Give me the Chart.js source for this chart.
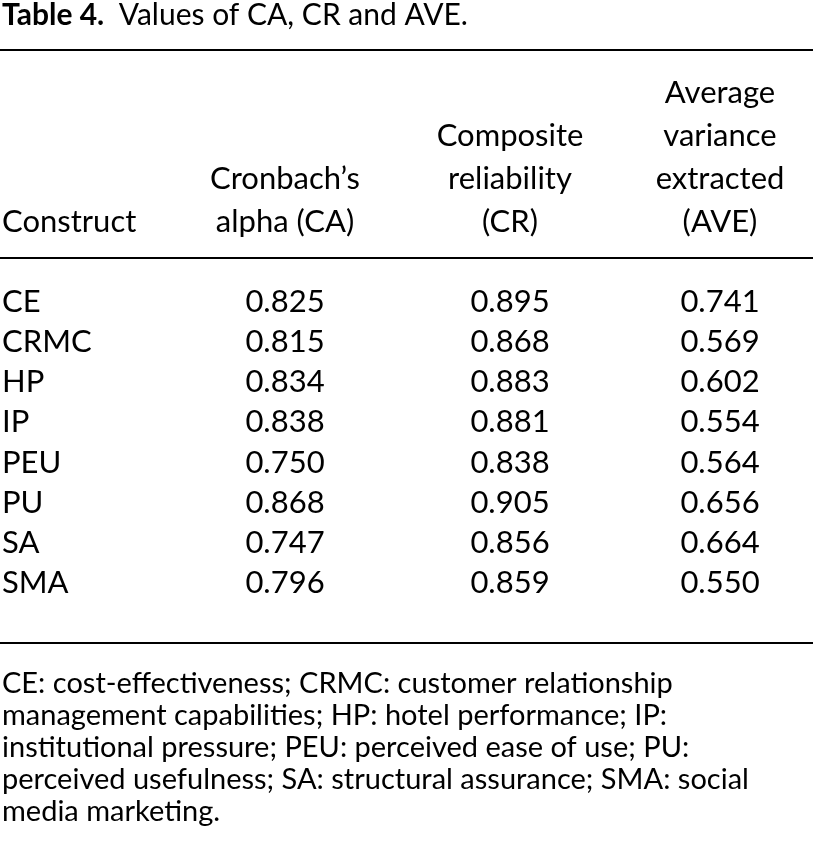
<!DOCTYPE html>
<html>
<head>
<meta charset="utf-8">
<style>
  body { margin: 0; background: #fff; }
  canvas { display: block; }
</style>
<script src="https://cdn.jsdelivr.net/npm/chart.js@4"></script>
</head>
<body>
<canvas id="chart" width="813" height="859"></canvas>
<script>
const titleBold = "Table 4."
const titleText = "Values of CA, CR and AVE."
const headers = [
    ["Construct"],
    ["Cronbach\u2019s", "alpha (CA)"],
    ["Composite", "reliability", "(CR)"],
    ["Average", "variance", "extracted", "(AVE)"]
]
const constructs = ["CE", "CRMC", "HP", "IP", "PEU", "PU", "SA", "SMA"]
const caValues = ["0.825", "0.815", "0.834", "0.838", "0.750", "0.868", "0.747", "0.796"]
const crValues = ["0.895", "0.868", "0.883", "0.881", "0.838", "0.905", "0.856", "0.859"]
const aveValues = ["0.741", "0.569", "0.602", "0.554", "0.564", "0.656", "0.664", "0.550"]
const footnote = [
    "CE: cost-effectiveness; CRMC: customer relationship",
    "management capabilities; HP: hotel performance; IP:",
    "institutional pressure; PEU: perceived ease of use; PU:",
    "perceived usefulness; SA: structural assurance; SMA: social",
    "media marketing."
]

// column anchors (pixels along the x scale) and alignment
const colX = [2, 285, 510, 720]
const colAlign = ['left', 'center', 'center', 'center']
const font = '"Lato", "Open Sans", sans-serif'

const tablePlugin = {
    id: 'table',
    afterDraw(chart) {
        const c = chart.ctx
        const xs = chart.scales.x
        const ys = chart.scales.y
        c.save()
        c.fillStyle = '#000'
        c.strokeStyle = '#000'
        c.textBaseline = 'middle'

        // title
        c.textAlign = 'left'
        c.font = 'bold 30px ' + font
        c.fillText(titleBold, xs.getPixelForValue(2), 15)
        const w = c.measureText(titleBold + "  ").width
        c.font = '30px ' + font
        c.fillText(titleText, xs.getPixelForValue(2) + w, 15)

        // rules
        c.lineWidth = 2
        const rule = y => {
            c.beginPath()
            c.moveTo(0, y)
            c.lineTo(813, y)
            c.stroke()
        }
        const rowTop = ys.getPixelForValue(-0.5)
        const rowBottom = ys.getPixelForValue(constructs.length - 0.5)
        rule(50)
        rule(rowTop - 24)
        rule(rowBottom + 40)

        // headers, bottom-aligned
        c.font = '31px ' + font
        headers.forEach((lines, i) => {
            c.textAlign = colAlign[i]
            lines.forEach((t, j) => {
                const y = 222 - (lines.length - 1 - j) * 43
                c.fillText(t, xs.getPixelForValue(colX[i]), y)
            })
        })

        // body rows
        const cols = [constructs, caValues, crValues, aveValues]
        cols.forEach((col, i) => {
            c.textAlign = colAlign[i]
            col.forEach((t, r) => {
                c.fillText(t, xs.getPixelForValue(colX[i]), ys.getPixelForValue(r))
            })
        })

        // footnote
        c.textAlign = 'left'
        c.font = '29px ' + font
        footnote.forEach((t, j) => {
            c.fillText(t, xs.getPixelForValue(2), rowBottom + 81 + j * 32)
        })
        c.restore()
    }
}

new Chart(document.getElementById('chart').getContext('2d'), {
    type: 'scatter',
    data: { datasets: [] },
    options: {
        responsive: false,
        animation: false,
        events: [],
        layout: { padding: { left: 0, right: 0, top: 282, bottom: 256 } },
        plugins: { legend: { display: false }, tooltip: { enabled: false } },
        scales: {
            x: { type: 'linear', min: 0, max: 813, display: false },
            y: { type: 'linear', min: -0.5, max: constructs.length - 0.5, reverse: true, display: false }
        }
    },
    plugins: [tablePlugin]
})
</script>
</body>
</html>
